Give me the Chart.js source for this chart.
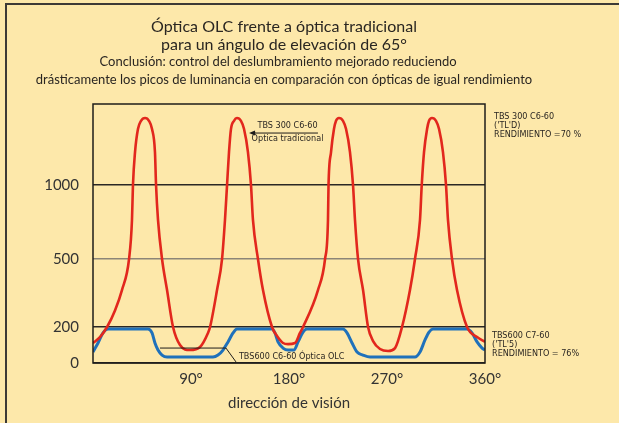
<!DOCTYPE html>
<html>
<head>
<meta charset="utf-8">
<style>
  html, body { margin: 0; padding: 0; background: #fde8aa; }
  canvas { display: block; }
</style>
<script src="https://cdn.jsdelivr.net/npm/chart.js@4.4.0/dist/chart.umd.min.js"></script>
</head>
<body>
<canvas id="grafico" width="619" height="423"></canvas>
<script>
// dirección de visión (grados) y luminancia de cada óptica
const gradosRojo = [0, 6.4, 12.9, 20.2, 26.6, 33.1, 35.8, 36.7, 38.6, 41.3, 44.1, 47.8, 51.4, 54.2, 56.9, 57.9, 59.7, 63.4, 68.0, 73.5,
  79.9, 89.1, 98.3, 105.6, 107.5, 113.9, 118.5, 121.2, 123.1, 124.9, 126.7, 129.5, 132.2, 135.9, 138.7, 142.3, 145.1, 146.9, 151.5, 156.1,
  164.4, 169.0, 174.5, 179.1, 185.5, 190.1, 192.9, 206.6, 213.1, 215.8, 216.3, 218.6, 221.3, 223.2, 225.9, 229.6, 232.4, 236.0, 238.8, 240.6,
  243.4, 248.0, 252.6, 257.2, 263.6, 271.0, 277.4, 283.8, 291.1, 295.7, 300.3, 301.9, 304.0, 306.8, 308.6, 311.3, 315.0, 317.8, 321.4, 324.2,
  326.0, 329.7, 334.3, 343.5, 352.7, 360];
const valoresRojo = [111, 144, 200, 273, 363, 500, 764, 1000, 1224, 1380, 1436, 1455, 1436, 1380, 1224, 1000, 764, 500, 363, 200,
  100, 72, 89, 167, 200, 363, 500, 764, 1000, 1224, 1380, 1436, 1455, 1436, 1380, 1224, 1000, 764, 500, 363,
  200, 150, 111, 105, 111, 167, 200, 363, 500, 764, 1000, 1224, 1380, 1436, 1455, 1436, 1380, 1224, 1000, 764,
  500, 363, 200, 122, 78, 67, 83, 200, 363, 500, 764, 1000, 1224, 1380, 1436, 1455, 1436, 1380, 1224, 1000,
  764, 500, 363, 200, 144, 117];

const gradosAzul = [0, 4.6, 9.2, 13.8, 50.5, 54.2, 56.9, 59.7, 63.4, 68.0, 110.2, 114.8, 119.4, 124.0, 128.6, 132.2,
  164.4, 167.1, 169.9, 174.5, 179.1, 184.6, 188.3, 192.9, 196.5, 229.6, 233.3, 237.9, 242.5, 248.0, 254.4,
  295.7, 300.3, 304.9, 308.6, 312.3, 343.5, 348.1, 352.7, 357.3, 360];
const valoresAzul = [61, 111, 167, 189, 189, 167, 111, 72, 44, 33, 33, 44, 72, 117, 167, 189,
  189, 167, 117, 83, 72, 72, 117, 172, 189, 189, 167, 111, 61, 44, 33,
  33, 61, 128, 172, 189, 189, 167, 117, 83, 72];

const marcasX = [90, 180, 270, 360];
const marcasY = [0, 200, 500, 1000];

// escala vertical por tramos: cada valor de corte ocupa una fracción fija de la altura
const cortesY = [0, 200, 500, 1000, 1550];
const fraccionesY = [0, 0.139, 0.4015, 0.687, 1];

class EscalaTramos extends Chart.LinearScale {
  static id = 'tramos';
  static defaults = Chart.LinearScale.defaults;

  getPixelForValue(value) {
    if (value === null || value === undefined || isNaN(value)) return NaN;
    let i = 1;
    while (i < cortesY.length - 1 && value > cortesY[i]) i++;
    const t = (value - cortesY[i - 1]) / (cortesY[i] - cortesY[i - 1]);
    const f = fraccionesY[i - 1] + t * (fraccionesY[i] - fraccionesY[i - 1]);
    return this.getPixelForDecimal(f);
  }

  getValueForPixel(pixel) {
    const f = 1 - (pixel - this.top) / this.height;
    let i = 1;
    while (i < fraccionesY.length - 1 && f > fraccionesY[i]) i++;
    const t = (f - fraccionesY[i - 1]) / (fraccionesY[i] - fraccionesY[i - 1]);
    return cortesY[i - 1] + t * (cortesY[i] - cortesY[i - 1]);
  }
}
Chart.register(EscalaTramos);

const puntos = (xs, ys) => xs.map((x, i) => ({ x: x, y: ys[i] }));

const fuente = 'Lato, "Open Sans", sans-serif';
const fuenteEstrecha = '"Liberation Sans Narrow", "DejaVu Sans Condensed", sans-serif';
const tinta = '#2a2622';

const rotulos = {
  id: 'rotulos',
  beforeDraw(chart) {
    const ctx = chart.ctx;
    ctx.save();
    ctx.fillStyle = '#fde8aa';
    ctx.fillRect(0, 0, chart.width, chart.height);
    // marco exterior (solo arriba e izquierda)
    ctx.strokeStyle = '#3d3a36';
    ctx.lineWidth = 2;
    ctx.beginPath();
    ctx.moveTo(chart.width, 4);
    ctx.lineTo(6, 4);
    ctx.lineTo(6, chart.height);
    ctx.stroke();
    ctx.restore();
  },
  afterDraw(chart) {
    const ctx = chart.ctx;
    const area = chart.chartArea;
    const x = chart.scales.x;
    const y = chart.scales.y;
    ctx.save();

    // caja del área de trazado
    ctx.strokeStyle = '#1e1c1a';
    ctx.lineWidth = 1.5;
    ctx.strokeRect(area.left, area.top, area.right - area.left, area.bottom - area.top);

    // títulos
    const cx = 284;
    ctx.fillStyle = tinta;
    ctx.textAlign = 'center';
    ctx.textBaseline = 'middle';
    ctx.font = '16px ' + fuente;
    ctx.fillText('Óptica OLC frente a óptica tradicional', cx, 27);
    ctx.fillText('para un ángulo de elevación de 65°', cx, 45);
    ctx.font = '13px ' + fuente;
    ctx.fillText('Conclusión: control del deslumbramiento mejorado reduciendo', cx - 6, 62);
    ctx.fillText('drásticamente los picos de luminancia en comparación con ópticas de igual rendimiento', cx, 80);

    // notas a la derecha del gráfico
    ctx.textAlign = 'left';
    ctx.font = '9px ' + fuenteEstrecha;
    const xd = area.right + 9;
    ['TBS 300 C6-60', "('TL'D)", 'RENDIMIENTO =70 %'].forEach((t, i) => ctx.fillText(t, xd, 117 + i * 9));
    ['TBS600 C7-60', "('TL'5)", 'RENDIMIENTO = 76%'].forEach((t, i) => ctx.fillText(t, xd - 2, 336 + i * 9));

    // llamada de la óptica tradicional
    const xa = x.getPixelForValue(143.3), xb = x.getPixelForValue(206.6);
    const ya = y.getPixelForValue(1353);
    ctx.strokeStyle = '#1e1c1a';
    ctx.lineWidth = 1;
    ctx.beginPath();
    ctx.moveTo(xa + 4, ya);
    ctx.lineTo(xb, ya);
    ctx.stroke();
    ctx.fillStyle = '#1e1c1a';
    ctx.beginPath();
    ctx.moveTo(xa, ya);
    ctx.lineTo(xa + 6, ya - 2.5);
    ctx.lineTo(xa + 6, ya + 2.5);
    ctx.closePath();
    ctx.fill();
    ctx.fillStyle = tinta;
    ctx.textAlign = 'center';
    const xm = (xa + xb) / 2 + 4;
    ctx.fillText('TBS 300 C6-60', xm, ya - 7);
    ctx.fillText('Óptica tradicional', xm, ya + 6);

    // llamada de la óptica OLC
    const x1 = x.getPixelForValue(61.5), x2 = x.getPixelForValue(122.1), x3 = x.getPixelForValue(131.3);
    const y1 = y.getPixelForValue(83), y3 = y.getPixelForValue(6);
    ctx.beginPath();
    ctx.moveTo(x1, y1);
    ctx.lineTo(x2, y1);
    ctx.lineTo(x3, y3);
    ctx.stroke();
    ctx.textAlign = 'left';
    ctx.fillText('TBS600 C6-60 Óptica OLC', x.getPixelForValue(134), y.getPixelForValue(33));

    ctx.restore();
  }
};

new Chart(document.getElementById('grafico'), {
  type: 'line',
  data: {
    datasets: [
      {
        label: 'TBS 300 C6-60 Óptica tradicional',
        data: puntos(gradosRojo, valoresRojo),
        borderColor: '#e2271d',
        borderWidth: 2.6,
        pointRadius: 0,
        cubicInterpolationMode: 'monotone'
      },
      {
        label: 'TBS600 C6-60 Óptica OLC',
        data: puntos(gradosAzul, valoresAzul),
        borderColor: '#1f71bb',
        borderWidth: 3,
        pointRadius: 0,
        cubicInterpolationMode: 'monotone'
      }
    ]
  },
  options: {
    responsive: false,
    animation: false,
    layout: { padding: { top: 104, right: 134, left: 0, bottom: 0 } },
    plugins: {
      legend: { display: false },
      tooltip: { enabled: false },
      title: { display: false }
    },
    scales: {
      x: {
        type: 'linear',
        min: 0,
        max: 360,
        afterBuildTicks: (scale) => { scale.ticks = marcasX.map(v => ({ value: v })); },
        afterFit: (scale) => { scale.height = 60; },
        grid: { display: false, drawTicks: false },
        border: { display: false },
        ticks: {
          autoSkip: false,
          maxRotation: 0,
          padding: 7,
          color: '#333',
          font: { family: fuente, size: 15 },
          callback: (v) => v + '°'
        },
        title: {
          display: true,
          text: 'dirección de visión',
          color: '#333',
          font: { family: fuente, size: 15 },
          padding: { top: 0, bottom: 11 }
        }
      },
      y: {
        type: 'tramos',
        min: 0,
        max: 1550,
        afterBuildTicks: (scale) => { scale.ticks = marcasY.map(v => ({ value: v })); },
        afterFit: (scale) => { scale.width = 93; },
        grid: {
          drawTicks: false,
          lineWidth: 1.5,
          color: (c) => c.tick && c.tick.value === 500 ? '#8c8577' : '#2a2724'
        },
        border: { display: false },
        ticks: {
          padding: 14,
          color: '#333',
          font: { family: fuente, size: 15 },
          callback: (v) => String(v)
        }
      }
    }
  },
  plugins: [rotulos]
});
</script>
</body>
</html>
